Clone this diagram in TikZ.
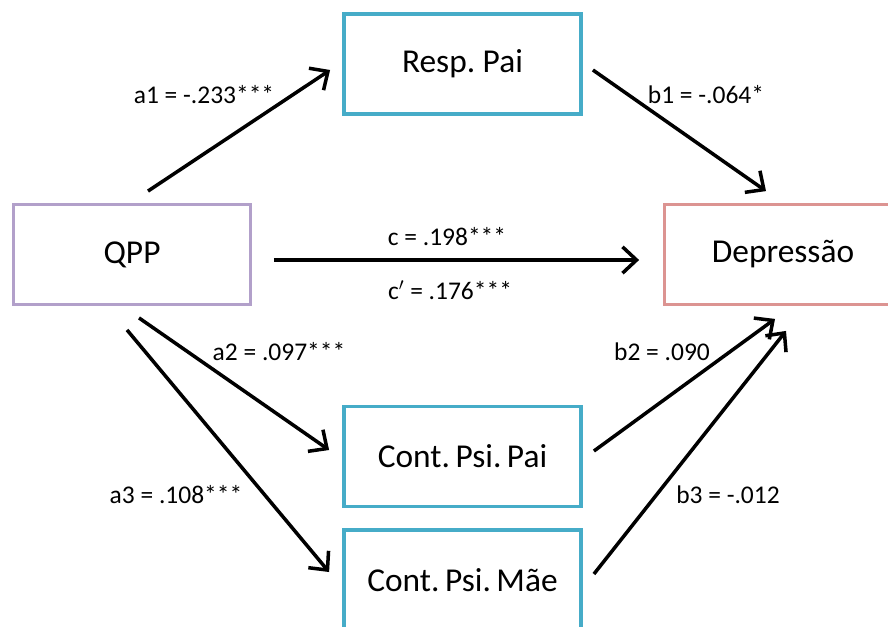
\documentclass[tikz,border=0pt]{standalone}
\usepackage{fontspec}
\setmainfont{Carlito}
\usepackage{tikz}
\usetikzlibrary{arrows.meta,positioning,calc}
\frenchspacing
\definecolor{varblue}{RGB}{70,172,200}
\definecolor{varlilac}{RGB}{178,160,202}
\definecolor{varrose}{RGB}{220,148,146}
\tikzset{
	var/.style={draw, line width=2.2pt, minimum width=4.74cm, minimum height=2cm, inner sep=0pt, font=\fontsize{19}{22}\selectfont},
	effect/.style={line width=2pt, -{Straight Barb[length=8pt,width=15pt,line width=2pt]}},
	coef/.style={font=\fontsize{14.5}{17}\selectfont, inner sep=0pt}
}
\begin{document}
\begin{tikzpicture}[x=0.02cm, y=-0.02cm]
		\clip (0,0) rectangle (888,626);
		\node[var, draw=varblue] (resp) at (462.5,64) {Resp. Pai};
		\node[var, draw=varlilac] (qpp) at (132,254.5) {QPP};
		\node[var, draw=varrose] (dep) at (783,254.5) {Depressão};
		\node[var, draw=varblue] (cpai) at (462.5,456.5) {Cont.\,Psi.\,Pai};
		\node[var, draw=varblue] (cmae) at (462.5,580) {Cont.\,Psi.\,Mãe};
		\draw[effect] ($(qpp.north)+(16,-11.5)$) -- ($(resp.west)+(-12,6)$);
		\draw[effect] ($(resp.east)+(10,6)$) -- ($(dep.north)+(-17,-11.5)$);
		\draw[effect] ($(qpp.east)+(21.5,5.5)$) -- ($(dep.west)+(-23.5,5.5)$);
		\draw[effect] ($(qpp.south)+(7,11.5)$) -- ($(cpai.west)+(-13,-6.5)$);
		\draw[effect] ($(qpp.south)+(-5,23.5)$) -- ($(cmae.west)+(-13,-8)$);
		\draw[effect] ($(cpai.east)+(11,-5.5)$) -- ($(dep.south)+(-8,12.5)$);
		\draw[effect] ($(cmae.east)+(11,-6)$) -- ($(dep.south)+(3,24.5)$);
		\node[coef] (a1) at (204,95) {a1 = -.233***};
		\node[coef] (b1) at (706,95) {b1 = -.064*};
		\node[coef] (c) at (447,237) {c = .198***};
		\node[coef] (cp) at (450,290) {c$'$ = .176***};
		\node[coef] (a2) at (279,352) {a2 = .097***};
		\node[coef] (b2) at (662,352) {b2 = .090};
		\node[coef] (a3) at (176,495) {a3 = .108***};
		\node[coef] (b3) at (728,495) {b3 = -.012};
	\end{tikzpicture}
\end{document}
